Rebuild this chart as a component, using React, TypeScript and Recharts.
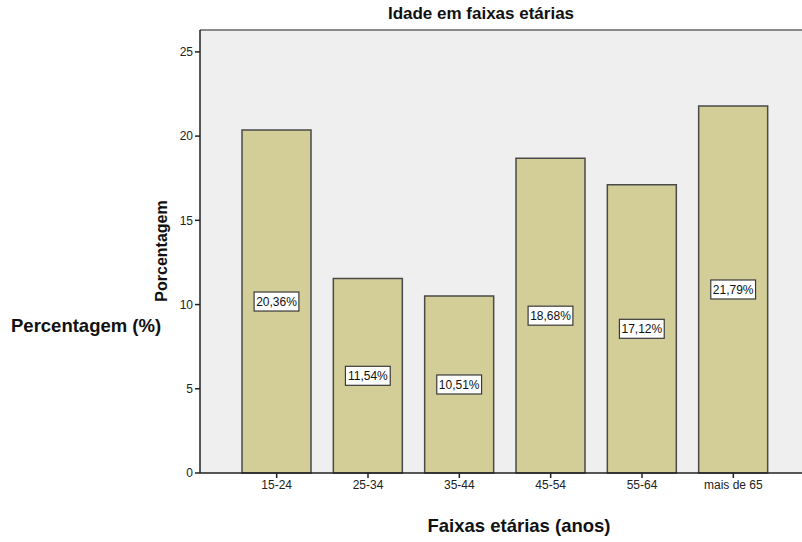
import React from "react";
import { BarChart, Bar, XAxis, YAxis, CartesianGrid, LabelList, ReferenceLine } from "recharts";

const categories = ["15-24", "25-34", "35-44", "45-54", "55-64", "mais de 65"];
const percentages = [20.36, 11.54, 10.51, 18.68, 17.12, 21.79];
const yTicks = [0, 5, 10, 15, 20, 25];

const data = categories.map((faixa, i) => ({ faixa, pct: percentages[i] }));

const FONT = "Arial, 'Liberation Sans', sans-serif";
const Y_MAX = 26.3;

const fmt = (v: number) => v.toFixed(2).replace(".", ",") + "%";

// White boxed value label placed at the vertical middle of each bar
const BoxLabel = (props: any) => {
  const { x, y, width, height, value } = props;
  const text = fmt(Number(value));
  const w = text.length * 6.8 + 4;
  const h = 19;
  const cx = Number(x) + Number(width) / 2;
  const cy = Number(y) + Number(height) / 2;
  return (
    <g>
      <rect x={cx - w / 2} y={cy - h / 2} width={w} height={h} fill="#ffffff" stroke="#3a3a3a" strokeWidth={1.2} />
      <text x={cx} y={cy + 4.5} textAnchor="middle" fontSize={12} fontFamily={FONT} fill="#111">
        {text}
      </text>
    </g>
  );
};

export default function App() {
  return (
    <div style={{ position: "absolute", left: 0, top: 0, width: 802, height: 542, background: "#fff", fontFamily: FONT }}>
      <BarChart
        width={802}
        height={542}
        data={data}
        margin={{ top: 30, right: 0, left: 160, bottom: 39 }}
        barCategoryGap={11}
      >
        <CartesianGrid horizontal={false} vertical={false} fill="#efefef" />
        <ReferenceLine y={Y_MAX} stroke="#8a8a8a" strokeWidth={2} ifOverflow="extendDomain" />
        <XAxis
          dataKey="faixa"
          height={30}
          padding={{ left: 31, right: 23 }}
          axisLine={{ stroke: "#222", strokeWidth: 1.5 }}
          tickLine={{ stroke: "#222", strokeWidth: 1.5 }}
          tickSize={5}
          tick={{ fontSize: 12, fill: "#222", fontFamily: FONT }}
        />
        <YAxis
          width={40}
          domain={[0, Y_MAX]}
          ticks={yTicks}
          axisLine={{ stroke: "#222", strokeWidth: 1.5 }}
          tickLine={{ stroke: "#222", strokeWidth: 1.5 }}
          tickSize={5}
          tick={{ fontSize: 12, fill: "#222", fontFamily: FONT }}
        />
        <Bar dataKey="pct" fill="#d3ce98" stroke="#4a4a4a" strokeWidth={1.5} isAnimationActive={false}>
          <LabelList dataKey="pct" content={<BoxLabel />} />
        </Bar>
      </BarChart>

      <div style={{ position: "absolute", left: 0, width: 962, top: 4, textAlign: "center", fontSize: 17, fontWeight: "bold", color: "#111" }}>
        Idade em faixas etárias
      </div>
      <div
        style={{
          position: "absolute",
          left: 162,
          top: 251,
          transform: "translate(-50%, -50%) rotate(-90deg)",
          fontSize: 16,
          fontWeight: "bold",
          color: "#111",
          whiteSpace: "nowrap",
        }}
      >
        Porcentagem
      </div>
      <div style={{ position: "absolute", left: 11, top: 315, fontSize: 18.5, fontWeight: "bold", color: "#111", whiteSpace: "nowrap" }}>
        Percentagem (%)
      </div>
      <div style={{ position: "absolute", left: 0, width: 1038, top: 515, textAlign: "center", fontSize: 18.5, fontWeight: "bold", color: "#111" }}>
        Faixas etárias (anos)
      </div>
    </div>
  );
}
